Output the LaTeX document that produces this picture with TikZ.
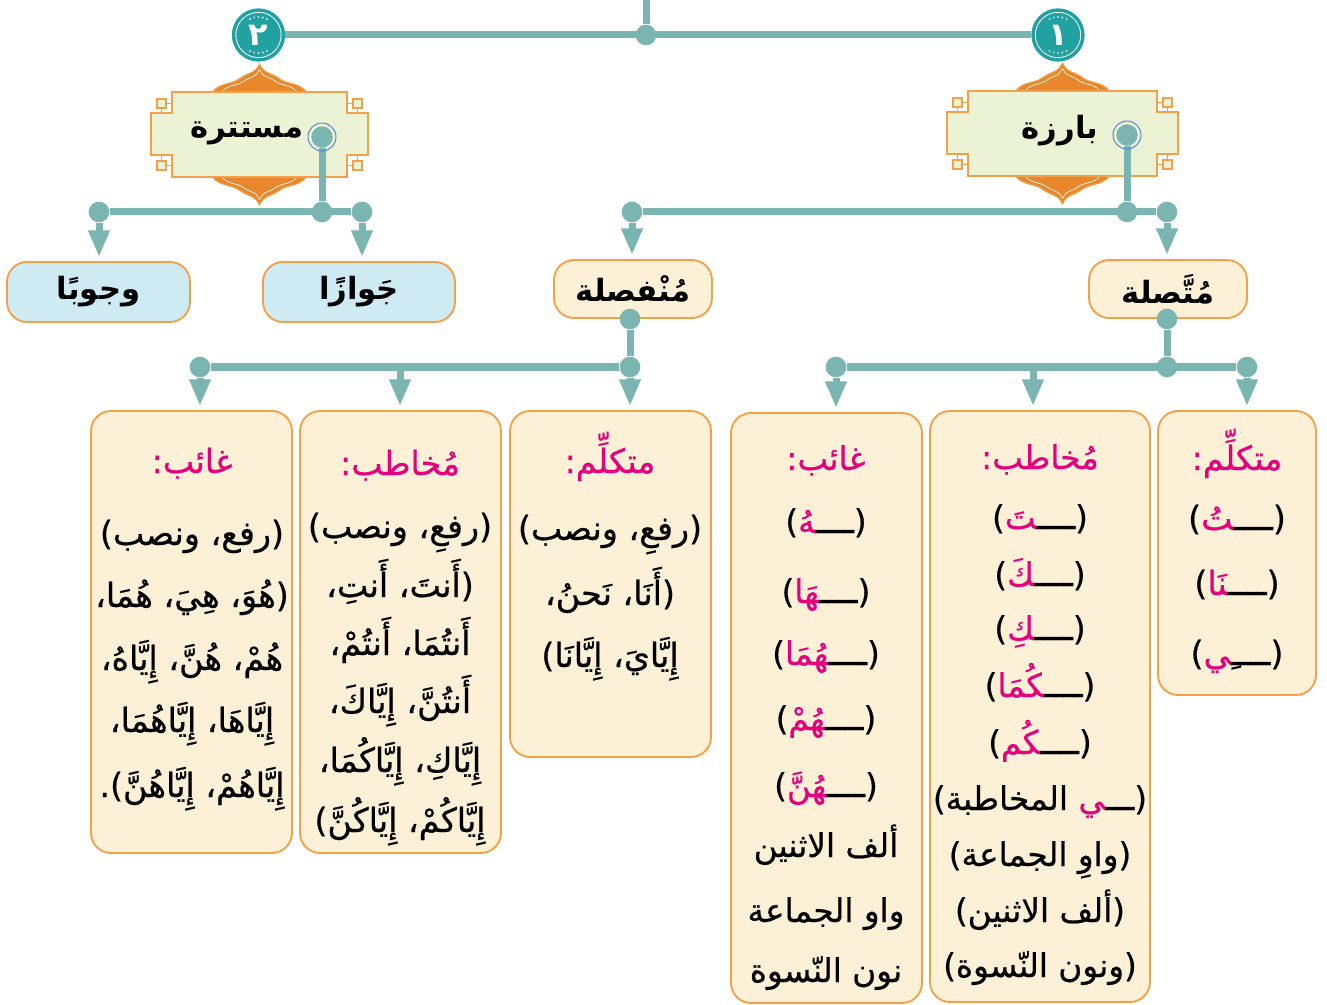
\documentclass[tikz,border=0pt]{standalone}
\usepackage{fontspec}
\usetikzlibrary{arrows.meta,backgrounds}
\TeXXeTstate=1
\newfontfamily\arabicfont[Script=Arabic,FakeBold=0.6]{DejaVu Sans}
\newfontfamily\arabictitle[Script=Arabic]{DejaVu Sans Bold}
\definecolor{teal1}{HTML}{7AB5B2}
\definecolor{badgec}{HTML}{22A1A3}
\definecolor{orng}{HTML}{F4A048}
\definecolor{domec}{HTML}{E8872B}
\definecolor{greenf}{HTML}{ECF3D4}
\definecolor{cream}{HTML}{FCF1D6}
\definecolor{lblue}{HTML}{CEEBF3}
\definecolor{pnk}{HTML}{E5007D}
\definecolor{ringblue}{HTML}{4C7FD6}
\newcommand\AR[1]{{\arabicfont\beginR #1\endR}}
\newcommand\ART[1]{{\arabictitle\beginR #1\endR}}
\newcommand\ARm[1]{{\arabicfont #1}}
\newcommand\pk[1]{\textcolor{pnk}{#1}}
\newcommand\myzwj{^^^^200d}
\newcommand\myrlm{^^^^200f}
\newcommand\kash{ــــ}
\newcommand\domepath{(-47,0) .. controls (-40,-9) and (-28,-8) .. (-22,-12) .. controls (-16,-16) and (-14,-17) .. (-9,-19) .. controls (-4,-21) and (-2,-24) .. (0,-28) .. controls (2,-24) and (4,-21) .. (9,-19) .. controls (14,-17) and (16,-16) .. (22,-12) .. controls (28,-8) and (40,-9) .. (47,0) -- cycle}
\newcommand\decoframe[4]{%
 \begin{scope}[shift={(#1,#2)}]
  \begin{scope}[shift={(0,-#4)}]
   \filldraw[fill=domec,draw=orng,line width=0.8pt] \domepath;
   \begin{scope}[scale=0.8]\draw[white,line width=0.5pt] \domepath;\end{scope}
  \end{scope}
  \begin{scope}[shift={(0,#4)},yscale=-1]
   \filldraw[fill=domec,draw=orng,line width=0.8pt] \domepath;
   \begin{scope}[scale=0.8]\draw[white,line width=0.5pt] \domepath;\end{scope}
  \end{scope}
  \filldraw[fill=greenf,draw=orng,line width=1.5pt] (-#3,-#4) -- (#3,-#4) -- (#3,-21) -- (#3+21,-21) -- (#3+21,21) -- (#3,21) -- (#3,#4) -- (-#3,#4) -- (-#3,21) -- (-#3-21,21) -- (-#3-21,-21) -- (-#3,-21) -- cycle;
  \foreach \sx in {-1,1}{\foreach \sy in {-1,1}{
   \draw[orng,line width=1pt] (\sx*#3+\sx*6,\sy*#4-\sy*11.5) -- (\sx*#3,\sy*#4-\sy*11.5);
   \draw[orng,line width=1pt] (\sx*#3+\sx*10.5,\sy*#4-\sy*7) -- (\sx*#3+\sx*10.5,\sy*21);
   \draw[orng,line width=1pt,fill=greenf] (\sx*#3+\sx*10.5-4.5,\sy*#4-\sy*11.5-4.5) rectangle ++(9,9);
  }}
 \end{scope}}
\begin{document}
\begin{tikzpicture}[x=0.75pt,y=-0.75pt,
  conn/.style={draw=teal1,line width=5.25pt},
  arr/.style={draw=teal1,line width=5.25pt,-{Triangle[length=20pt,width=15pt]},shorten >=3pt},
  dot/.style={circle,fill=teal1,inner sep=0pt,minimum size=15.5pt},
  boxsz/.style 2 args={minimum width=#1*0.75pt,minimum height=#2*0.75pt},
  cbox/.style={draw=orng,line width=1.4pt,fill=cream,rounded corners=15pt,inner sep=0pt},
  bbox/.style={draw=orng,line width=1.4pt,fill=lblue,rounded corners=15pt,inner sep=0pt},
  tline/.style={anchor=base,inner sep=0pt,font=\fontsize{25}{30}\selectfont},
  tlines/.style={anchor=base,inner sep=0pt,font=\fontsize{24.5}{30}\selectfont},
  ttl/.style={inner sep=0pt,font=\fontsize{23}{27}\selectfont},
  badge/.style={circle,fill=badgec,inner sep=0pt,minimum size=40pt,text=white,font=\fontsize{24}{28}\selectfont}]
\useasboundingbox (0,0) rectangle (1327,1005);
% badges
\node[badge] (bdg2) at (258.5,35) {\ART{٢}};
\node[badge] (bdg1) at (1058,35) {\ART{١}};
\foreach \b in {bdg1,bdg2}{
  \draw[white,line width=0.6pt] (\b.center) circle (17pt);
  \foreach \a in {62,76,90,104,118}{
    \fill[white,shift={(\b.center)}] (\a:18) circle (0.7pt);
    \fill[white,shift={(\b.center)}] (-\a:18) circle (0.7pt);}
}
% titles
\node[ttl] (t2) at (247,133) {\ART{مستترة}};
\node[ttl] (t1) at (1060,131) {\ART{بارزة}};
\node[dot,minimum size=16pt] (r2) at (322,137) {};
\node[dot,minimum size=16pt] (r1) at (1127,135) {};
\draw[ringblue,line width=0.7pt] (r2.center) circle (10.5pt);
\draw[ringblue,line width=0.7pt] (r1.center) circle (10.5pt);
% junctions
\coordinate (ttop) at (646,0);
\node[dot] (jt) at (646,35) {};
\node[dot] (dL2) at (99,212) {};
\node[dot] (j2) at (322,212) {};
\node[dot] (dR2) at (362,212) {};
\node[dot] (dL1) at (632,212) {};
\node[dot] (j1) at (1127,212) {};
\node[dot] (dR1) at (1167,212) {};
% level 2 boxes
\node[bbox,boxsz={183}{60},font=\fontsize{23}{27}\selectfont] (wj) at (98.5,292) {\ART{وجوبًا}};
\node[bbox,boxsz={192}{60},font=\fontsize{23}{27}\selectfont] (jw) at (359,292) {\ART{جَوازًا}};
\node[cbox,boxsz={158}{58},font=\fontsize{23}{27}\selectfont] (mnf) at (633,289) {\ART{مُنْفصلة}};
\node[cbox,boxsz={158}{58},font=\fontsize{23}{27}\selectfont] (mtt) at (1168,289) {\ART{مُتَّصلة}};
\node[dot] (dm) at (630,319) {};
\node[dot] (dmj) at (630,367) {};
\node[dot] (dmL) at (200,367) {};
\coordinate (dmM) at (400,367);
\node[dot] (dt) at (1167,319) {};
\node[dot] (dtj) at (1167,367) {};
\node[dot] (dtL) at (836,367) {};
\node[dot] (dtR) at (1247,367) {};
\coordinate (dtM) at (1033,367);
% bottom boxes
\node[cbox,boxsz={158}{284}] (B1) at (1237,553) {};
\node[cbox,boxsz={220}{591}] (B2) at (1040,706.5) {};
\node[cbox,boxsz={191}{590}] (B3) at (826.5,708) {};
\node[cbox,boxsz={201}{346}] (B4) at (610.5,584) {};
\node[cbox,boxsz={201}{442}] (B5) at (400.5,632) {};
\node[cbox,boxsz={201}{442}] (B6) at (191.5,632) {};
% box 1
\node[tline] (b1h) at (1237,470) {\pk{\AR{متكلِّم:}}};
\node[tline] (b1a) at (1237,530) {\ARm{\myrlm)\pk{\myzwj تُ}(\kash}};
\node[tline] (b1b) at (1237,595) {\ARm{\myrlm)\pk{\myzwj نَا}(\kash}};
\node[tline] (b1c) at (1237,665) {\ARm{\myrlm)\pk{\myzwj ي}(\kash ِ}};
% box 2
\node[tlines] (b2h) at (1040,469) {\pk{\AR{مُخاطب:}}};
\node[tlines] (b2a) at (1040,529) {\ARm{\myrlm)\pk{\myzwj تَ}(\kash}};
\node[tlines] (b2b) at (1040,586) {\ARm{\myrlm)\pk{\myzwj كَ}(\kash}};
\node[tlines] (b2c) at (1040,640) {\ARm{\myrlm)\pk{\myzwj كِ}(\kash}};
\node[tlines] (b2d) at (1040,697) {\ARm{\myrlm)\pk{\myzwj كُمَا}(\kash}};
\node[tlines] (b2e) at (1040,754) {\ARm{\myrlm)\pk{\myzwj كُم}(\kash}};
\node[tlines] (b2f) at (1040,810) {\ARm{المخاطبة)\ \pk{\myzwj ي}(ـــ}};
\node[tlines] (b2g) at (1040,866) {\AR{(واوِ الجماعة)}};
\node[tlines] (b2i) at (1040,922) {\AR{(ألف الاثنين)}};
\node[tlines] (b2j) at (1040,977) {\AR{(ونون النّسوة)}};
% box 3
\node[tlines] (b3h) at (826,470) {\pk{\AR{غائب:}}};
\node[tlines] (b3a) at (826,533) {\ARm{\myrlm)\pk{\myzwj هُ}(\kash}};
\node[tlines] (b3b) at (826,603) {\ARm{\myrlm)\pk{\myzwj هَا}(\kash}};
\node[tlines] (b3c) at (826,665) {\ARm{\myrlm)\pk{\myzwj هُمَا}(\kash}};
\node[tlines] (b3d) at (826,730) {\ARm{\myrlm)\pk{\myzwj هُمْ}(\kash}};
\node[tlines] (b3e) at (826,797) {\ARm{\myrlm)\pk{\myzwj هُنَّ}(\kash}};
\node[tlines] (b3f) at (826,857) {\AR{ألف الاثنين}};
\node[tlines] (b3g) at (826,922) {\AR{واو الجماعة}};
\node[tlines] (b3i) at (826,982) {\AR{نون النّسوة}};
% box 4
\node[tline] (b4h) at (610,473) {\pk{\AR{متكلِّم:}}};
\node[tline] (b4a) at (610,540) {\AR{(رفعِ، ونصب)}};
\node[tline] (b4b) at (610,605) {\AR{(أَنَا، نَحنُ،}};
\node[tline] (b4c) at (610,667) {\AR{إِيَّايَ، إِيَّانَا)}};
% box 5
\node[tline] (b5h) at (400,475) {\pk{\AR{مُخاطب:}}};
\node[tline] (b5a) at (400,538) {\AR{(رفعِ، ونصب)}};
\node[tline] (b5b) at (400,597) {\AR{(أَنتَ، أَنتِ،}};
\node[tline] (b5c) at (400,655) {\AR{أَنتُمَا، أَنتُمْ،}};
\node[tline] (b5d) at (400,713) {\AR{أَنتُنَّ، إِيَّاكَ،}};
\node[tline] (b5e) at (400,772) {\AR{إِيَّاكِ، إِيَّاكُمَا،}};
\node[tline] (b5f) at (400,832) {\AR{إِيَّاكُمْ، إِيَّاكُنَّ)}};
% box 6
\node[tline] (b6h) at (192,473) {\pk{\AR{غائب:}}};
\node[tline] (b6a) at (192,545) {\AR{(رفع، ونصب)}};
\node[tline] (b6b) at (192,607) {\AR{(هُوَ، هِيَ، هُمَا،}};
\node[tline] (b6c) at (192,670) {\AR{هُمْ، هُنَّ، إِيَّاهُ،}};
\node[tline] (b6d) at (192,732) {\AR{إِيَّاهَا، إِيَّاهُمَا،}};
\node[tline] (b6e) at (192,797) {\AR{إِيَّاهُمْ، إِيَّاهُنَّ).}};
% background: frames and connectors
\begin{scope}[on background layer]
 \decoframe{259.5}{134.5}{87.5}{42.5}
 \decoframe{1062.5}{133.5}{94.5}{42.5}
 \draw[conn] (bdg2) -- (bdg1);
 \draw[conn] (ttop) -- (jt);
 \draw[conn] (r2) -- (j2);
 \draw[conn] (dL2) -- (dR2);
 \draw[arr] (dL2) -- (dL2 |- wj.north);
 \draw[arr] (dR2) -- (dR2 |- jw.north);
 \draw[conn] (r1) -- (j1);
 \draw[conn] (dL1) -- (dR1);
 \draw[arr] (dL1) -- (dL1 |- mnf.north);
 \draw[arr] (dR1) -- (dR1 |- mtt.north);
 \draw[conn] (dm) -- (dmj);
 \draw[conn] (dmL) -- (dmj);
 \draw[arr] (dmL) -- (dmL |- B6.north);
 \draw[arr] (dmM) -- (dmM |- B5.north);
 \draw[arr] (dmj) -- (dmj |- B4.north);
 \draw[conn] (dt) -- (dtj);
 \draw[conn] (dtL) -- (dtR);
 \draw[arr] (dtL) -- (dtL |- B3.north);
 \draw[arr] (dtM) -- (dtM |- B2.north);
 \draw[arr] (dtR) -- (dtR |- B1.north);
\end{scope}
\end{tikzpicture}
\end{document}
